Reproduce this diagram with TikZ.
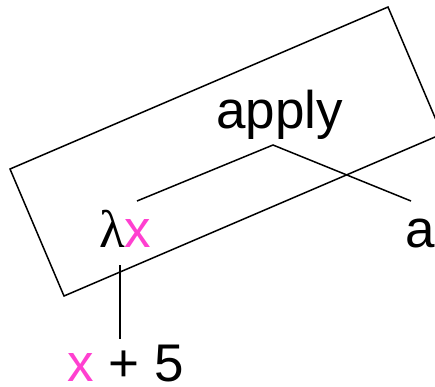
\documentclass[tikz,border=0pt]{standalone}
\usepackage{fontspec}
\setmainfont{Liberation Sans}
\newfontfamily\greekfont{Liberation Serif}
\usetikzlibrary{calc}
\definecolor{varpink}{HTML}{FF40D0}

\begin{document}
\begin{tikzpicture}[x=1pt,y=-1pt,
  term/.style={inner sep=0pt,anchor=base west,font=\fontsize{53}{60}\selectfont},
  branch/.style={line width=1.5pt,line join=miter}]

  \clip (0,0) rectangle (435,386);
  \useasboundingbox (0,0) rectangle (435,386);

  % tilted frame round the application
  \draw[branch] (10,169) -- (388,7) -- (442,134) -- (64,296) -- cycle;

  % terms
  \node[term] (apply) at (216,128) {apply};
  \node[term] (lam)   at (99,247)  {{\greekfont λ}\textcolor{varpink}{x}};
  \node[term] (arg)   at (405,247) {a};
  \node[term] (body)  at (67,381)  {\textcolor{varpink}{x} + 5};

  % tree edges
  \coordinate (fork) at ($(apply.base west)+(57,17)$);
  \draw[branch] ($(lam.base west)+(38,-46)$) -- (fork) -- ($(arg.base west)+(6,-46)$);
  \draw[branch] ($(lam.base west)+(21,18)$) -- ($(body.base west)+(53,-42)$);
\end{tikzpicture}
\end{document}
